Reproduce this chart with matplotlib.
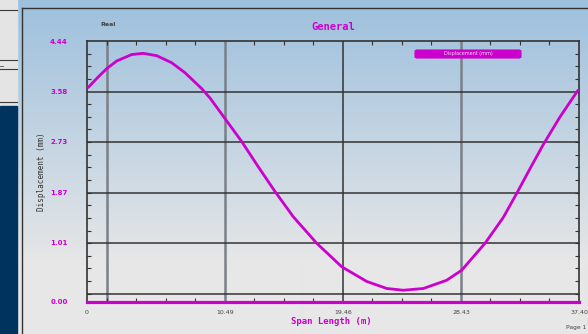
import numpy as np
import matplotlib
matplotlib.use("Agg")
import matplotlib.pyplot as plt
from matplotlib.patches import Rectangle, FancyBboxPatch
from matplotlib.ticker import FixedLocator

# Deflected shape along the span
span_m = [0.05, 0.86, 1.50, 2.26, 3.40, 4.28, 5.30, 6.44, 7.45, 8.72, 9.35, 10.49,
          11.76, 13.02, 14.29, 15.68, 17.46, 19.36, 21.26, 22.78, 24.05, 25.57,
          27.34, 28.48, 30.26, 31.65, 32.67, 33.68, 34.69, 35.96, 37.35]
displacement_mm = [3.64, 3.83, 3.97, 4.10, 4.21, 4.23, 4.19, 4.07, 3.90, 3.63, 3.47,
                   3.12, 2.73, 2.30, 1.88, 1.45, 1.00, 0.60, 0.35, 0.23, 0.20, 0.23,
                   0.37, 0.54, 1.00, 1.44, 1.85, 2.27, 2.68, 3.15, 3.61]
# Reference (undeformed) line
ref_span = [0.0, 37.40]
ref_disp = [0.0, 0.0]

x_ticks = [0.0, 10.49, 19.46, 28.43, 37.40]
x_labels = ["0", "10.49", "19.46", "28.43", "37.40"]
y_ticks = [0.0, 1.01, 1.87, 2.73, 3.58, 4.44]
y_labels = ["0.00", "1.01", "1.87", "2.73", "3.58", "4.44"]

title = "General"
corner_note = "Real"
x_title = "Span Length (m)"
y_title = "Displacement (mm)"
legend_text = "Displacement (mm)"
page_note = "Page 1"

MAGENTA = "#cc00cc"
DARK = "#333333"
W, H = 588, 334

fig = plt.figure(figsize=(W / 100, H / 100), dpi=100)

# ---- window background (pixel coordinates) ----
bg = fig.add_axes([0, 0, 1, 1])
bg.set_xlim(0, W)
bg.set_ylim(H, 0)
bg.axis("off")

rows = np.arange(H)
t = np.clip(rows / 265.0, 0, 1)[:, None]
top = np.array([157, 192, 221]) / 255
bot = np.array([231, 231, 231]) / 255
grad = top * (1 - t) + bot * t
grad = np.repeat(grad[:, None, :], 2, axis=1)
bg.imshow(grad, extent=(17, W, H, 0), aspect="auto", interpolation="bilinear", zorder=0)

# side panel
bg.add_patch(Rectangle((0, 0), 17, 106, color="#e4e4e4", zorder=1))
bg.add_patch(Rectangle((0, 106), 17, H - 106, color="#00335e", zorder=1))
for yy in (10, 60, 69, 102):
    bg.plot([0, 17], [yy, yy], color="#3a3a3a", lw=0.8, zorder=2)
bg.plot([0, 3], [66, 66], color="#555555", lw=0.6, zorder=2)

# chart frame
bg.plot([22, 22], [8, H], color=DARK, lw=1.0, zorder=2)
bg.plot([22, W], [8, 8], color=DARK, lw=1.0, zorder=2)

bg.text(108, 24, corner_note, fontsize=4.5, color="#444444", ha="center", va="center",
        family="DejaVu Sans", fontweight="bold")
bg.text(333, 27, title, fontsize=7.5, color=MAGENTA, ha="center", va="center",
        fontweight="bold", family="DejaVu Sans Mono")
bg.text(331, 321, x_title, fontsize=6.5, color=MAGENTA, ha="center", va="center",
        fontweight="bold", family="DejaVu Sans Mono")
bg.text(42, 172, y_title, fontsize=5.5, color="#333333", ha="center", va="center",
        rotation=90, family="DejaVu Sans Mono")
bg.text(576, 328, page_note, fontsize=4.3, color="#444444", ha="center", va="center",
        family="DejaVu Sans")

# ---- plot area ----
left, right, top_px, bot_px = 87, 579, 41, 302
ax = fig.add_axes([left / W, 1 - bot_px / H, (right - left) / W, (bot_px - top_px) / H])
ax.set_facecolor("none")
ax.set_xlim(x_ticks[0], x_ticks[-1])
ax.set_ylim(y_ticks[0], y_ticks[-1])

x_step = x_ticks[-1] - x_ticks[-2]
y_step = y_ticks[-1] - y_ticks[-2]
x_grid = np.arange(x_ticks[-1], 0, -x_step)[1:]
y_grid = np.arange(y_ticks[-1], 0, -y_step)[1:]

for gx in x_grid:
    if abs(gx - x_ticks[2]) < 1e-6:
        ax.axvline(gx, color=DARK, lw=1.1, zorder=1)
    else:
        ax.axvline(gx, color="#7a8088", lw=1.8, zorder=1)
for gy in y_grid:
    ax.axhline(gy, color=DARK, lw=1.1, zorder=1)

ax.plot(span_m, displacement_mm, color=MAGENTA, lw=2.0, zorder=3,
        solid_joinstyle="round", solid_capstyle="butt")
ax.plot(ref_span, ref_disp, color=MAGENTA, lw=2.3, zorder=4, clip_on=False)

for s in ax.spines.values():
    s.set_color(DARK)
    s.set_linewidth(1.2)

ax.set_xticks(x_ticks)
ax.set_xticklabels(x_labels)
ax.set_yticks(y_ticks)
ax.set_yticklabels(y_labels)
ax.tick_params(axis="both", which="major", length=0)
ax.tick_params(axis="x", pad=6, labelsize=4.5, labelcolor="#444444")
ax.tick_params(axis="y", pad=14, labelsize=5, labelcolor=MAGENTA)
for lab in ax.get_yticklabels():
    lab.set_fontweight("bold")

x_minor = np.arange(x_grid[-1] - x_step, x_ticks[-1] + 1e-6, x_step / 4)
y_minor = np.arange(y_grid[-1] - y_step, y_ticks[-1] + 1e-6, y_step / 4)
ax.xaxis.set_minor_locator(FixedLocator([v for v in x_minor if 0 < v < x_ticks[-1]]))
ax.yaxis.set_minor_locator(FixedLocator([v for v in y_minor if 0 < v < y_ticks[-1]]))
ax.tick_params(which="minor", direction="in", length=3, width=0.8, color=DARK,
               top=True, right=True, bottom=True, left=True)

# legend entry
lx0, lx1, ly0, ly1 = 415, 521, 50, 58
leg = FancyBboxPatch((lx0 / W, 1 - ly1 / H), (lx1 - lx0) / W, (ly1 - ly0) / H,
                     boxstyle="round,pad=0,rounding_size=0.004", transform=fig.transFigure,
                     facecolor=MAGENTA, edgecolor=MAGENTA, lw=0.8, zorder=10)
fig.add_artist(leg)
fig.text((lx0 + lx1) / 2 / W, 1 - (ly0 + ly1) / 2 / H, legend_text, fontsize=3.5,
         color="#f4d8f4", ha="center", va="center", zorder=11)

fig.savefig("out.png", dpi=100)
